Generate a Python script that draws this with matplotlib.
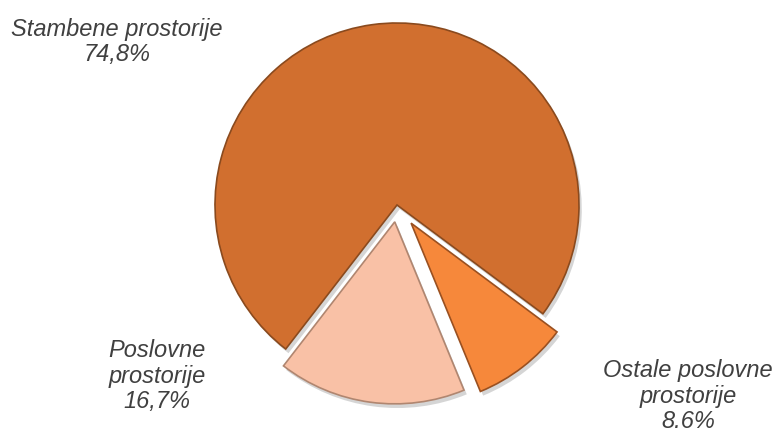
import numpy as np
import matplotlib.pyplot as plt
import matplotlib.patheffects as pe

# data
labels = ['Stambene prostorije\n74,8%', 'Poslovne\nprostorije\n16,7%', 'Ostale poslovne\nprostorije\n8.6%']
shares = [74.8, 16.7, 8.6]
colors = ['#D16F2F', '#F9C1A6', '#F6883B']
edges = ['#8A4A1E', '#B08670', '#9A5020']
explode = [0, 17, 23]  # pixels, pie explode is in data units

fig = plt.figure(figsize=(7.76, 4.32), dpi=100)
ax = fig.add_axes([0, 0, 1, 1])

wedges, _ = ax.pie(shares, colors=colors, explode=explode, startangle=-36.7,
                   counterclock=True, center=(397, 227), radius=182,
                   wedgeprops=dict(linewidth=1.2))
ax.set_xlim(0, 776)
ax.set_ylim(0, 432)
ax.set_aspect('equal')
ax.axis('off')

for w, ec in zip(wedges, edges):
    w.set_edgecolor(ec)
    w.set_path_effects([pe.SimplePatchShadow(offset=(2, -3), shadow_rgbFace='#888888', alpha=0.35),
                        pe.Normal()])

# labels (positions in pixels, y measured from bottom)
txt = dict(fontsize=17, style='italic', color='#404040', family='Liberation Sans',
           ha='center', va='center', linespacing=1.15)
ax.text(117, 432 - 42, labels[0], **txt)
ax.text(157, 432 - 376, labels[1], **txt)
ax.text(688, 432 - 396, labels[2], **txt)

fig.savefig('out.png', dpi=100)
